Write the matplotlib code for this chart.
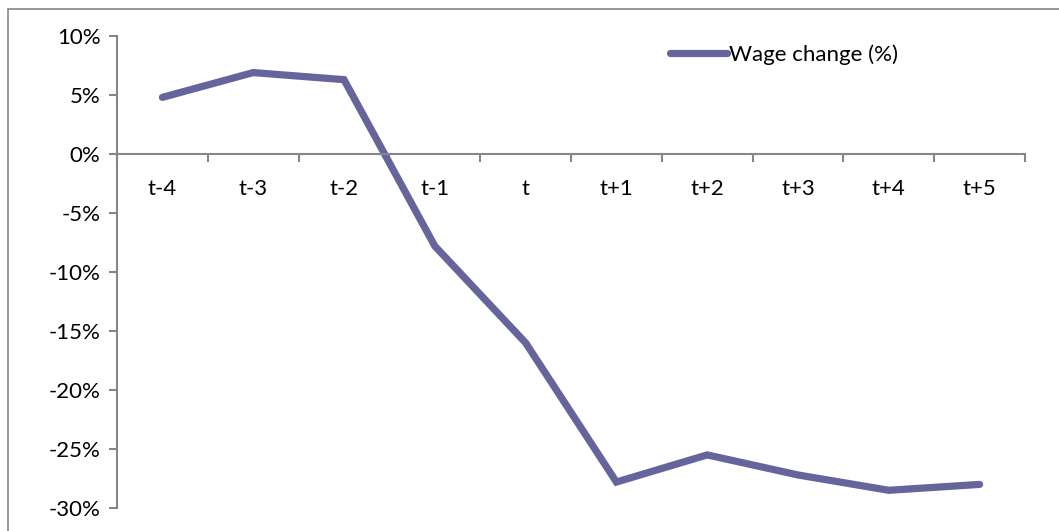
import numpy as np
import matplotlib.pyplot as plt
from matplotlib.patches import Rectangle
from matplotlib.ticker import FuncFormatter

plt.rcParams['font.family'] = ['Lato', 'DejaVu Sans']

periods = ["t-4", "t-3", "t-2", "t-1", "t", "t+1", "t+2", "t+3", "t+4", "t+5"]
wage_change = [4.8, 6.9, 6.3, -7.8, -16.0, -27.8, -25.5, -27.2, -28.5, -28.0]
series_name = "Wage change (%)"

LINE = "#65659b"
GREY = "#868686"
FS = 16

fig = plt.figure(figsize=(10.59, 5.31), dpi=100)
ax = fig.add_axes([117 / 1059, 1 - 508 / 531, (1025 - 117) / 1059, (508 - 36) / 531])

# chart area border (only left and top visible in the crop)
fig.patches.append(Rectangle((8 / 1059, -0.1), 1.2, 1 - 9 / 531 + 0.1,
                             transform=fig.transFigure, fill=False,
                             edgecolor=GREY, lw=1.2))

x = np.arange(len(periods))
ax.plot(x, wage_change, color=LINE, lw=5.2, solid_capstyle="round",
        solid_joinstyle="miter", label=series_name)

ax.set_xlim(-0.5, len(periods) - 0.5)
ax.set_ylim(-30, 10)
ax.set_yticks(np.arange(-30, 11, 5))
ax.yaxis.set_major_formatter(FuncFormatter(lambda v, p: f"{v:.0f}%"))

for s in ["top", "right"]:
    ax.spines[s].set_visible(False)
ax.spines["bottom"].set_position(("data", 0))
for s in ["left", "bottom"]:
    ax.spines[s].set_color(GREY)
    ax.spines[s].set_linewidth(1.5)

ax.set_xticks(np.arange(-0.5, len(periods), 1.0))
ax.set_xticklabels([])
ax.set_xticks(x, minor=True)
ax.set_xticklabels(periods, minor=True)
ax.tick_params(axis="x", which="major", direction="out", length=6, width=1.5, color=GREY)
ax.tick_params(axis="x", which="minor", length=0, pad=18, labelsize=FS)
ax.tick_params(axis="y", direction="out", length=6, width=1.5, color=GREY,
               labelsize=FS, pad=6)

ax.legend(loc="upper left", bbox_to_anchor=(0.587, 1.025), frameon=False,
          fontsize=FS, handlelength=2.55, handletextpad=0.1)

fig.savefig("out.png", dpi=100)
